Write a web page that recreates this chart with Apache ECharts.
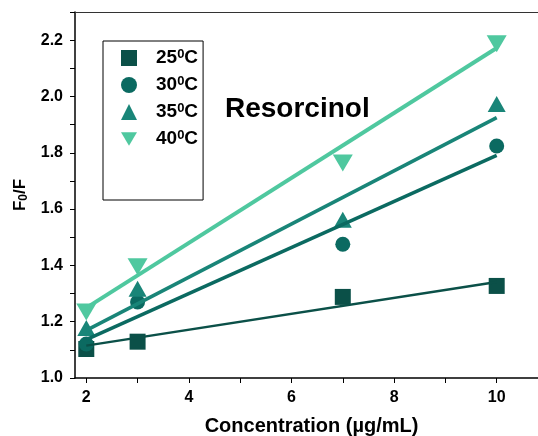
<!DOCTYPE html>
<html>
<head>
<meta charset="utf-8">
<script src="https://cdn.jsdelivr.net/npm/echarts@6/dist/echarts.min.js"></script>
<style>
  html, body { margin: 0; padding: 0; background: #fff; }
  #chart { width: 538px; height: 436px; }
</style>
</head>
<body>
<div id="chart"></div>
<script>
// concentrations (µg/mL)
var conc = [2, 3, 7, 10];
// F0/F measured at each temperature
var f25 = [1.103, 1.129, 1.288, 1.327];
var f30 = [1.121, 1.27, 1.475, 1.824];
var f35 = [1.178, 1.317, 1.562, 1.973];
var f40 = [1.234, 1.395, 1.764, 2.187];
// fitted lines, read at x = 2 and x = 10
var fitX = [2, 10];
var fit25 = [1.115, 1.341];
var fit30 = [1.136, 1.791];
var fit35 = [1.169, 1.925];
var fit40 = [1.249, 2.172];
var names = ['25', '30', '35', '40'];
// axis ticks / labels
var xTicks = [2, 3, 4, 5, 6, 7, 8, 9, 10, 11];
var xLabels = [2, 4, 6, 8, 10];
var yTicks = [1.0, 1.1, 1.2, 1.3, 1.4, 1.5, 1.6, 1.7, 1.8, 1.9, 2.0, 2.1, 2.2, 2.3];
var yLabels = [1.0, 1.2, 1.4, 1.6, 1.8, 2.0, 2.2];

var colors = ['#0b5048', '#0b6a61', '#198578', '#4fc89f'];
var font = 'Arial, "Liberation Sans", sans-serif';
var downTri = 'path://M0,0 L20,0 L10,17 Z';

function pts(xs, ys) {
  var out = [];
  for (var i = 0; i < xs.length; i++) out.push([xs[i], ys[i]]);
  return out;
}

var chart = echarts.init(document.getElementById('chart'));

var scatters = [
  {vals: f25, symbol: 'rect', size: 16},
  {vals: f30, symbol: 'circle', size: 15},
  {vals: f35, symbol: 'triangle', size: [18, 16]},
  {vals: f40, symbol: downTri, size: [20, 17]}
];
var fits = [
  {vals: fit25, width: 2.5},
  {vals: fit30, width: 3.5},
  {vals: fit35, width: 3.5},
  {vals: fit40, width: 4}
];

var series = [];
scatters.forEach(function (s, i) {
  series.push({
    name: names[i],
    type: 'scatter',
    symbol: s.symbol,
    symbolSize: s.size,
    itemStyle: {color: colors[i], opacity: 1},
    data: pts(conc, s.vals),
    z: 2
  });
});
fits.forEach(function (f, i) {
  series.push({
    name: 'fit' + names[i],
    type: 'line',
    symbol: 'none',
    lineStyle: {color: colors[i], width: f.width},
    data: pts(fitX, f.vals),
    z: 3
  });
});

chart.setOption({
  animation: false,
  grid: {left: 75, top: 12, right: -10, bottom: 58, outerBoundsMode: 'none', containLabel: false},
  title: {
    text: 'Resorcinol',
    left: 220, top: 90,
    textStyle: {fontFamily: font, fontSize: 28, fontWeight: 'bold', color: '#000'}
  },
  legend: {
    data: names,
    orient: 'vertical',
    left: 103, top: 41,
    padding: [7, 5, 50, 18],
    itemGap: 6,
    itemWidth: 16, itemHeight: 16,
    borderColor: '#000', borderWidth: 1,
    formatter: function (n) { return '{n|' + n + '}{s|0}{n|C}'; },
    textStyle: {
      padding: [0, 0, 0, 14],
      rich: {
        n: {fontFamily: font, fontSize: 19, fontWeight: 'bold', color: '#000', lineHeight: 20},
        s: {fontFamily: font, fontSize: 13, fontWeight: 'bold', color: '#000', verticalAlign: 'top', lineHeight: 20, padding: [0, 0, 8, 0]}
      }
    }
  },
  xAxis: [{
    type: 'value',
    min: 1.78, max: 11,
    name: 'Concentration (µg/mL)',
    nameLocation: 'middle',
    nameGap: 38,
    nameTextStyle: {fontFamily: font, fontSize: 20, fontWeight: 'bold', color: '#000'},
    splitLine: {show: false},
    axisLine: {lineStyle: {color: '#000', width: 1.5}},
    axisTick: {customValues: xTicks, length: 5, lineStyle: {color: '#000'}},
    axisLabel: {
      customValues: xLabels, margin: 12,
      fontFamily: font, fontSize: 16, fontWeight: 'bold', color: '#000'
    }
  }, {
    type: 'value',
    position: 'top',
    min: 1.78, max: 11,
    splitLine: {show: false},
    axisLine: {show: true, lineStyle: {color: '#333', width: 1}},
    axisTick: {show: false},
    axisLabel: {show: false}
  }],
  yAxis: {
    type: 'value',
    min: 1.0, max: 2.3,
    name: '{n|F}{s|0}{n|/F}',
    nameLocation: 'middle',
    nameGap: 45,
    nameTextStyle: {
      rich: {
        n: {fontFamily: font, fontSize: 17, fontWeight: 'bold', color: '#000', lineHeight: 20},
        s: {fontFamily: font, fontSize: 12, fontWeight: 'bold', color: '#000', verticalAlign: 'bottom', lineHeight: 20, padding: [6, 0, 0, 0]}
      }
    },
    splitLine: {show: false},
    axisLine: {show: true, lineStyle: {color: '#000', width: 1.5}},
    axisTick: {show: true, customValues: yTicks, length: 5, lineStyle: {color: '#000'}},
    axisLabel: {
      customValues: yLabels, margin: 12,
      formatter: function (v) { return v.toFixed(1); },
      fontFamily: font, fontSize: 16, fontWeight: 'bold', color: '#000'
    }
  },
  series: series
});
</script>
</body>
</html>
